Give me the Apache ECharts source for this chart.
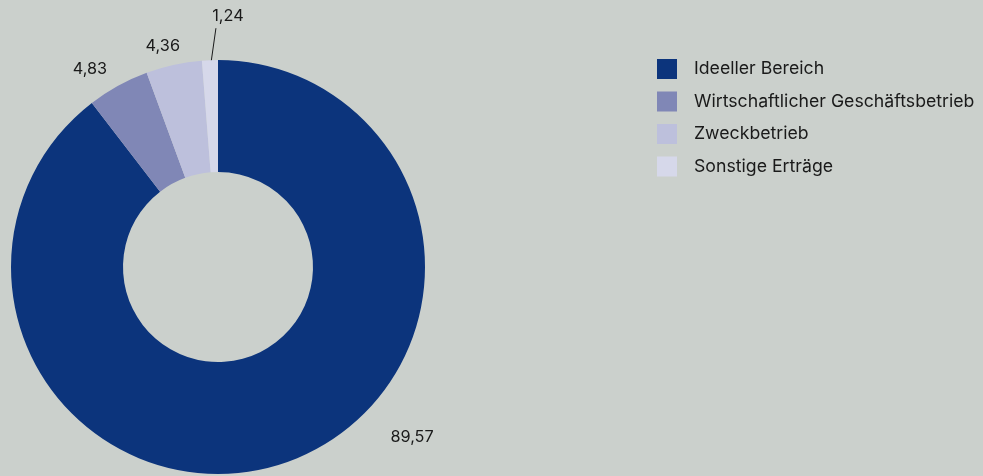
<!DOCTYPE html>
<html><head><meta charset="utf-8">
<script src="https://cdn.jsdelivr.net/npm/echarts@6/dist/echarts.min.js"></script>
<style>html,body{margin:0;padding:0;background:#cbd0cc}#c{width:983px;height:476px}</style>
</head><body><div id="c"></div>
<script>
const categories = ['Ideeller Bereich','Wirtschaftlicher Geschäftsbetrieb','Zweckbetrieb','Sonstige Erträge'];
const values = [89.57, 4.83, 4.36, 1.24];
const colors = ['#0c347c','#8087b6','#bdc0dc','#d6d8ea'];

const chart = echarts.init(document.getElementById('c'));
const cx = 218, cy = 267, R = 207, r0 = 95;
// label placement: angular offset (deg, from slice mid) and radius
const labelAdj = [{da:-30, rad:258}, {da:-4, rad:236}, {da:-1.7, rad:228}, {da:4.5, rad:251}];
const total = values.reduce((a,b)=>a+b,0);
const mids = []; let acc = 0;
values.forEach(v => { mids.push((acc + v/2)/total*360); acc += v; });
const fmt = v => v.toFixed(2).replace('.', ',');

chart.setOption({
  backgroundColor: '#cbd0cc',
  animation: false,
  color: colors,
  legend: {
    orient: 'vertical', left: 652, top: 54,
    itemWidth: 20, itemHeight: 20, itemGap: 12.5,
    icon: 'rect',
    textStyle: {fontFamily: 'Inter', fontSize: 17.7, lineHeight: 20, height: 20, color: '#1a1a1a', padding: [0,0,0,12]},
    data: categories
  },
  series: [{
    type: 'pie',
    center: [cx, cy], radius: [r0, R],
    startAngle: 90, clockwise: true,
    label: {show: true, position: 'outside', formatter: p => fmt(p.value),
      fontFamily: 'Inter', fontSize: 16.3, color: '#1a1a1a'},
    labelLine: {show: false},
    labelLayout: function (p) {
      const i = p.dataIndex;
      const a = (mids[i] + labelAdj[i].da) * Math.PI / 180;
      const x = cx + labelAdj[i].rad * Math.sin(a);
      const y = cy - labelAdj[i].rad * Math.cos(a);
      const o = {x: x, y: y, align: 'center', verticalAlign: 'middle'};
      if (i === 3) {
        const am = mids[i] * Math.PI / 180;
        o.labelLinePoints = [[cx + 199*Math.sin(am), cy - 199*Math.cos(am)], [x - 12, y + 12], [x - 12, y + 12]];
      }
      return o;
    },
    emphasis: {disabled: true},
    data: categories.map((c, i) => ({name: c, value: values[i],
      labelLine: i === 3 ? {show: true, lineStyle: {color: '#1a1a1a', width: 1}} : {show: false}}))
  }]
});
</script></body></html>
